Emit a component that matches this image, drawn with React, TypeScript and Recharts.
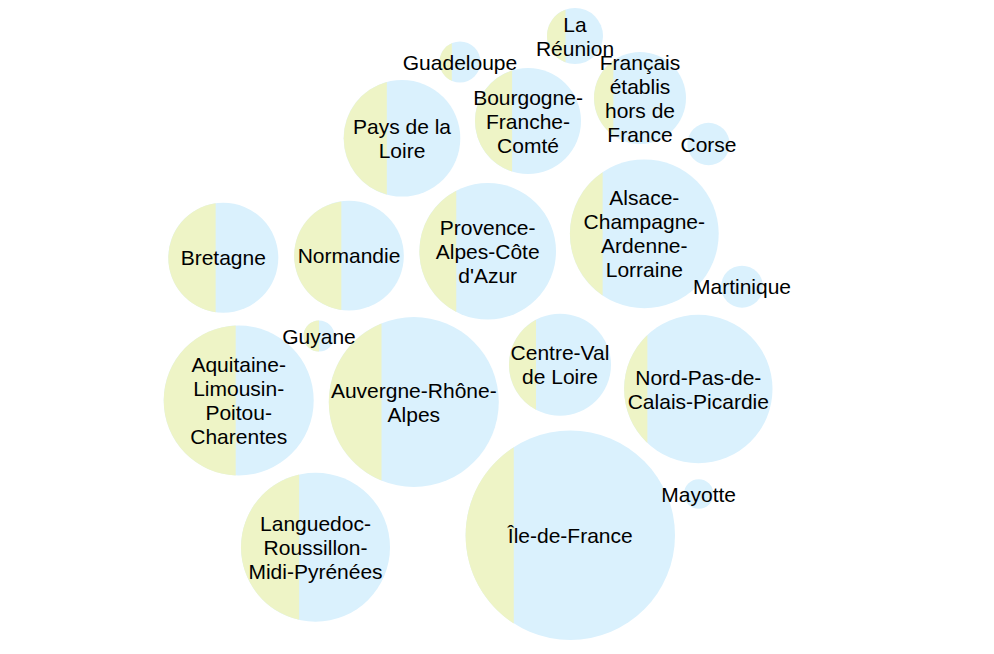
import { ScatterChart, Scatter, XAxis, YAxis, ZAxis } from 'recharts'

// Regions, drawn as bubbles in a packed layout
const regions = [
  'La Réunion', 'Guadeloupe', 'Français établis hors de France', 'Pays de la Loire',
  'Bourgogne-Franche-Comté', 'Corse', 'Bretagne', 'Normandie', "Provence-Alpes-Côte d'Azur",
  'Alsace-Champagne-Ardenne-Lorraine', 'Martinique', 'Guyane', 'Aquitaine-Limousin-Poitou-Charentes',
  'Auvergne-Rhône-Alpes', 'Centre-Val de Loire', 'Nord-Pas-de-Calais-Picardie', 'Mayotte',
  'Languedoc-Roussillon-Midi-Pyrénées', 'Île-de-France',
]

// label lines as they wrap inside each bubble
const labelLines = [
  ['La', 'Réunion'], ['Guadeloupe'], ['Français', 'établis', 'hors de', 'France'], ['Pays de la', 'Loire'],
  ['Bourgogne-', 'Franche-', 'Comté'], ['Corse'], ['Bretagne'], ['Normandie'], ['Provence-', 'Alpes-Côte', "d'Azur"],
  ['Alsace-', 'Champagne-', 'Ardenne-', 'Lorraine'], ['Martinique'], ['Guyane'], ['Aquitaine-', 'Limousin-', 'Poitou-', 'Charentes'],
  ['Auvergne-Rhône-', 'Alpes'], ['Centre-Val', 'de Loire'], ['Nord-Pas-de-', 'Calais-Picardie'], ['Mayotte'],
  ['Languedoc-', 'Roussillon-', 'Midi-Pyrénées'], ['Île-de-France'],
]

// layout position of each bubble
const posX = [575, 460, 640, 402, 528, 708.5, 223.3, 349, 487.7, 644.3, 742, 319, 238.7, 413.8, 560, 698.3, 698.7, 315.5, 570.3]
const posY = [36, 62, 98, 138.3, 121, 144, 257.7, 255.7, 251.3, 233.8, 286.7, 336, 400.5, 402, 364.7, 389, 494, 547.2, 535.3]

// bubble size (thousands)
const sizes = [501, 268, 1351, 2170, 1794, 287, 1932, 1920, 2979, 3535, 282, 153, 3592, 4613, 1661, 3516, 138, 3544, 7000]

// left-hand share of each bubble
const shares = [0.33, 0.3, 0.21, 0.37, 0.35, 0, 0.43, 0.43, 0.27, 0.22, 0, 0.5, 0.48, 0.31, 0.265, 0.157, 0, 0.39, 0.23]

const YELLOW = '#eef4c6'
const BLUE = '#daf1fd'

const data = regions.map((name, i) => ({
  name,
  lines: labelLines[i],
  x: posX[i],
  y: posY[i],
  z: sizes[i],
  share: shares[i],
}))

const radiusOf = (props: any) =>
  props.width ? props.width / 2 : Math.sqrt(Math.max(props.size || 0, 0) / Math.PI)

function SplitBubble(props: any) {
  const { cx, cy, payload } = props
  const r = radiusOf(props)
  const sx = cx - r + payload.share * 2 * r
  const h = Math.sqrt(Math.max(r * r - (sx - cx) * (sx - cx), 0))
  const large = sx > cx ? 1 : 0
  return (
    <g>
      <circle cx={cx} cy={cy} r={r} fill={BLUE} />
      {payload.share > 0 && (
        <path d={`M${sx},${cy - h} A${r},${r} 0 ${large} 0 ${sx},${cy + h} Z`} fill={YELLOW} />
      )}
    </g>
  )
}

function BubbleLabel(props: any) {
  const { cx, cy, payload } = props
  const lines: string[] = payload.lines
  const n = lines.length
  return (
    <text textAnchor="middle" fontSize={21} fill="#000" fontFamily="'Liberation Sans', Arial, sans-serif">
      {lines.map((line, i) => (
        <tspan key={i} x={cx} y={cy + (i - (n - 1) / 2) * 24 + 7.5}>{line}</tspan>
      ))}
    </text>
  )
}

export default function App() {
  return (
    <div style={{ position: 'absolute', left: 0, top: 0, width: 994, height: 654, background: '#fff' }}>
      <ScatterChart width={994} height={654} margin={{ top: 0, right: 0, bottom: 0, left: 0 }}>
        <XAxis type="number" dataKey="x" domain={[0, 994]} hide />
        <YAxis type="number" dataKey="y" domain={[0, 654]} reversed hide />
        <ZAxis type="number" dataKey="z" domain={[0, 7000]} range={[0, Math.PI * 104.7 * 104.7]} />
        <Scatter data={data} shape={<SplitBubble />} isAnimationActive={false} />
        <Scatter data={data} shape={<BubbleLabel />} isAnimationActive={false} />
      </ScatterChart>
    </div>
  )
}
